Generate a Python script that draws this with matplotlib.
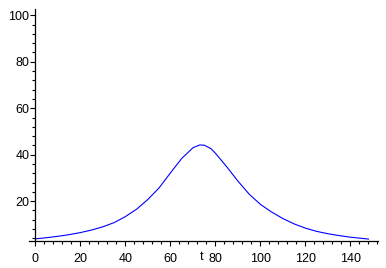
import numpy as np
import matplotlib
matplotlib.use("Agg")
import matplotlib.pyplot as plt
from matplotlib.ticker import MultipleLocator

# Curve
t = [0, 5, 10, 15, 20, 25, 30, 35, 40, 45, 50, 55, 60, 65, 70, 73, 75, 78,
     80, 85, 90, 95, 100, 105, 110, 115, 120, 125, 130, 135, 140, 145, 148]
y = [3.8, 4.3, 4.9, 5.6, 6.5, 7.6, 9.0, 10.8, 13.4, 16.6, 20.8, 25.8, 32.2,
     38.4, 43.0, 44.2, 44.1, 42.6, 40.6, 34.8, 28.6, 23.0, 18.6, 15.3, 12.5,
     10.2, 8.4, 7.0, 6.0, 5.2, 4.5, 4.0, 3.7]

xticks = [0, 20, 40, 60, 80, 100, 120, 140]
yticks = [20, 40, 60, 80, 100]

plt.rcParams['font.family'] = ['Liberation Sans', 'DejaVu Sans']

fig = plt.figure(figsize=(3.86, 2.68), dpi=100)
ax = fig.add_axes([29.4 / 386, 27.3 / 268, 349 / 386, 231.7 / 268])

ax.plot(t, y, color='#0000ff', lw=0.8)

ax.set_xlim(-2.7, 152.4)
ax.set_ylim(3.0, 102.7)

# axes look: y axis through t=0, no box
ax.spines['top'].set_visible(False)
ax.spines['right'].set_visible(False)
ax.spines['left'].set_position(('data', 0))
for s in ('left', 'bottom'):
    ax.spines[s].set_linewidth(0.9)

ax.set_xticks(xticks)
ax.set_yticks(yticks)
ax.xaxis.set_minor_locator(MultipleLocator(4))
ax.yaxis.set_minor_locator(MultipleLocator(4))
ax.tick_params(which='major', length=3.5, width=0.8, labelsize=9)
ax.tick_params(which='minor', length=2.2, width=0.8)
ax.tick_params(axis='x', which='major', pad=5)
ax.tick_params(axis='y', which='major', pad=1)

ax.set_xlabel('t', fontsize=9)
ax.xaxis.set_label_coords(0.492, -0.045)
ax.xaxis.label.set_va('top')

fig.savefig('out.png', dpi=100)
